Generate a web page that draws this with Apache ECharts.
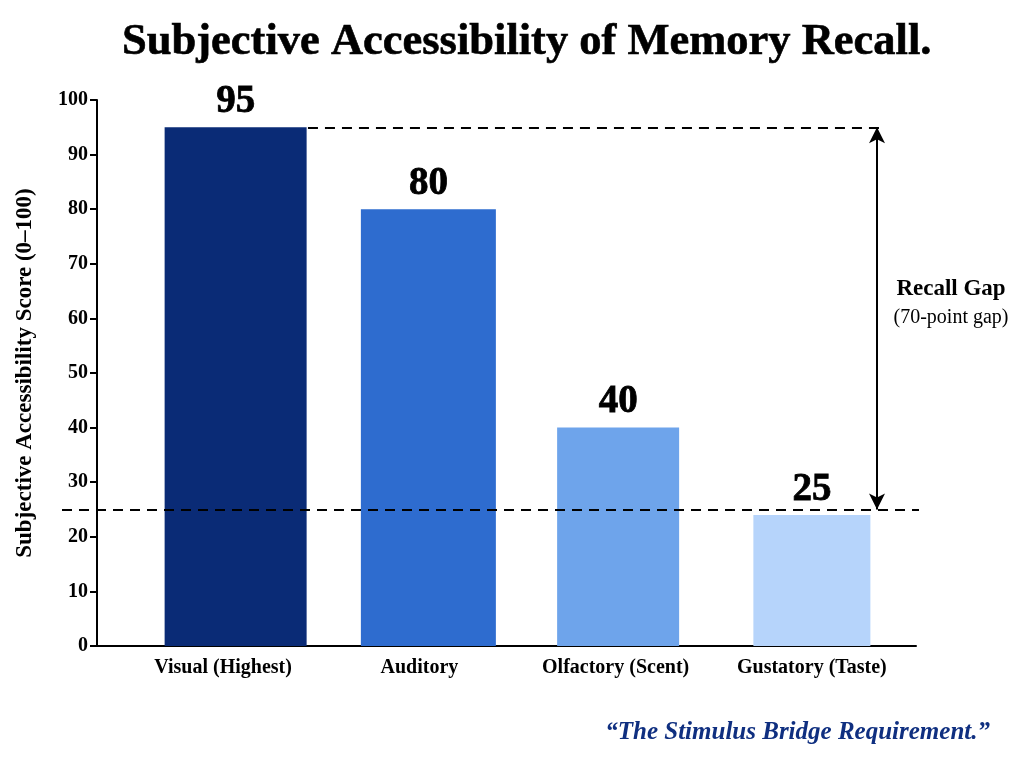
<!DOCTYPE html>
<html>
<head>
<meta charset="utf-8">
<script src="https://cdn.jsdelivr.net/npm/echarts@6/dist/echarts.min.js"></script>
<style>html,body{margin:0;padding:0;background:#fff;}#chart{width:1024px;height:768px;}</style>
</head>
<body>
<div id="chart"></div>
<script>
const categories = ['Visual (Highest)', 'Auditory', 'Olfactory (Scent)', 'Gustatory (Taste)'];
const barValues = [95, 80, 40, 24];
const valueLabels = ['95', '80', '40', '25'];
const yTicks = [0, 10, 20, 30, 40, 50, 60, 70, 80, 90, 100];
const gapHigh = 95;
const gapLow = 25;

const colors = ['#0a2b76', '#2e6ccf', '#6ea4eb', '#b6d4fb'];
const widths = [142, 135, 122, 117];
const SERIF = '"Liberation Serif", "DejaVu Serif", serif';

const chart = echarts.init(document.getElementById('chart'));

const barSeries = categories.map((c, i) => ({
  type: 'bar',
  xAxisIndex: 1, yAxisIndex: 1,
  barWidth: widths[i],
  barGap: '-100%',
  data: categories.map((_, j) => (j === i ? barValues[j] : null)),
  itemStyle: { color: colors[i] },
  label: {
    show: true, position: 'top', distance: 6,
    formatter: () => valueLabels[i],
    fontFamily: SERIF, fontWeight: 'bold', fontSize: 39, color: '#000',
    textBorderColor: '#000', textBorderWidth: 0.8
  }
}));

chart.setOption({
  backgroundColor: '#fff',
  animation: false,
  title: {
    text: 'Subjective Accessibility of Memory Recall.',
    left: 117, top: 15,
    textStyle: { fontFamily: SERIF, fontWeight: 'bold', fontSize: 44.5, color: '#000',
      textBorderColor: '#000', textBorderWidth: 0.6 }
  },
  grid: [
    { left: 97, right: 108, top: 100, bottom: 122 },
    { left: 125, right: 114, top: 100, bottom: 122 },
    { left: 62, right: 105, top: 100, bottom: 122 }
  ],
  xAxis: [
    { gridIndex: 0, type: 'value', min: 0, max: 1, axisLine: { show: true, lineStyle: { color: '#000', width: 2 } },
      axisTick: { show: false }, axisLabel: { show: false }, splitLine: { show: false } },
    { gridIndex: 1, type: 'category', data: categories, axisLine: { show: false }, axisTick: { show: false },
      axisLabel: { margin: 12, fontFamily: SERIF, fontWeight: 'bold', fontSize: 20, color: '#000' } },
    { gridIndex: 2, type: 'value', min: 0, max: 1, show: false }
  ],
  yAxis: [
    { gridIndex: 0, type: 'value', min: 0, max: 100, interval: 10,
      name: 'Subjective Accessibility Score (0\u2013100)', nameLocation: 'middle', nameGap: 60,
      nameTextStyle: { fontFamily: SERIF, fontWeight: 'bold', fontSize: 23, color: '#000' },
      axisLine: { show: true, lineStyle: { color: '#000', width: 2 } },
      axisTick: { show: true, length: 7, lineStyle: { color: '#000', width: 2 } },
      axisLabel: { margin: 9, fontFamily: SERIF, fontWeight: 'bold', fontSize: 20, color: '#000',
        formatter: v => (yTicks.indexOf(v) >= 0 ? String(v) : '') },
      splitLine: { show: false } },
    { gridIndex: 1, type: 'value', min: 0, max: 100, show: false },
    { gridIndex: 2, type: 'value', min: 0, max: 100, show: false }
  ],
  series: barSeries.concat([{
    type: 'line', xAxisIndex: 2, yAxisIndex: 2, data: [], silent: true,
    markLine: {
      silent: true, animation: false,
      label: { show: false },
      data: [
        [{ coord: [0.287, gapHigh], symbol: 'none' }, { coord: [0.96, gapHigh], symbol: 'none' }],
        [{ coord: [0, gapLow], symbol: 'none' }, { coord: [1, gapLow], symbol: 'none' }]
      ].map(pair => pair.map(p => Object.assign({}, p, { lineStyle: { type: [10, 7], width: 2, color: '#000' } })))
      .concat([[
        { coord: [0.951, gapHigh], symbol: 'arrow', symbolSize: [12, 16], lineStyle: { type: 'solid', width: 2, color: '#000' } },
        { coord: [0.951, gapLow], symbol: 'arrow', symbolSize: [12, 16] }
      ]])
    }
  }]),
  graphic: [
    { type: 'text', x: 951, y: 289, style: { text: 'Recall Gap', textAlign: 'center', textVerticalAlign: 'middle',
      font: 'bold 23px ' + SERIF, fill: '#000' } },
    { type: 'text', x: 951, y: 318, style: { text: '(70-point gap)', textAlign: 'center', textVerticalAlign: 'middle',
      font: '20px ' + SERIF, fill: '#000' } },
    { type: 'text', x: 990, y: 733, style: { text: '\u201CThe Stimulus Bridge Requirement.\u201D', textAlign: 'right', textVerticalAlign: 'middle',
      font: 'italic bold 25px ' + SERIF, fill: '#0f2f80' } }
  ]
});
</script>
</body>
</html>
